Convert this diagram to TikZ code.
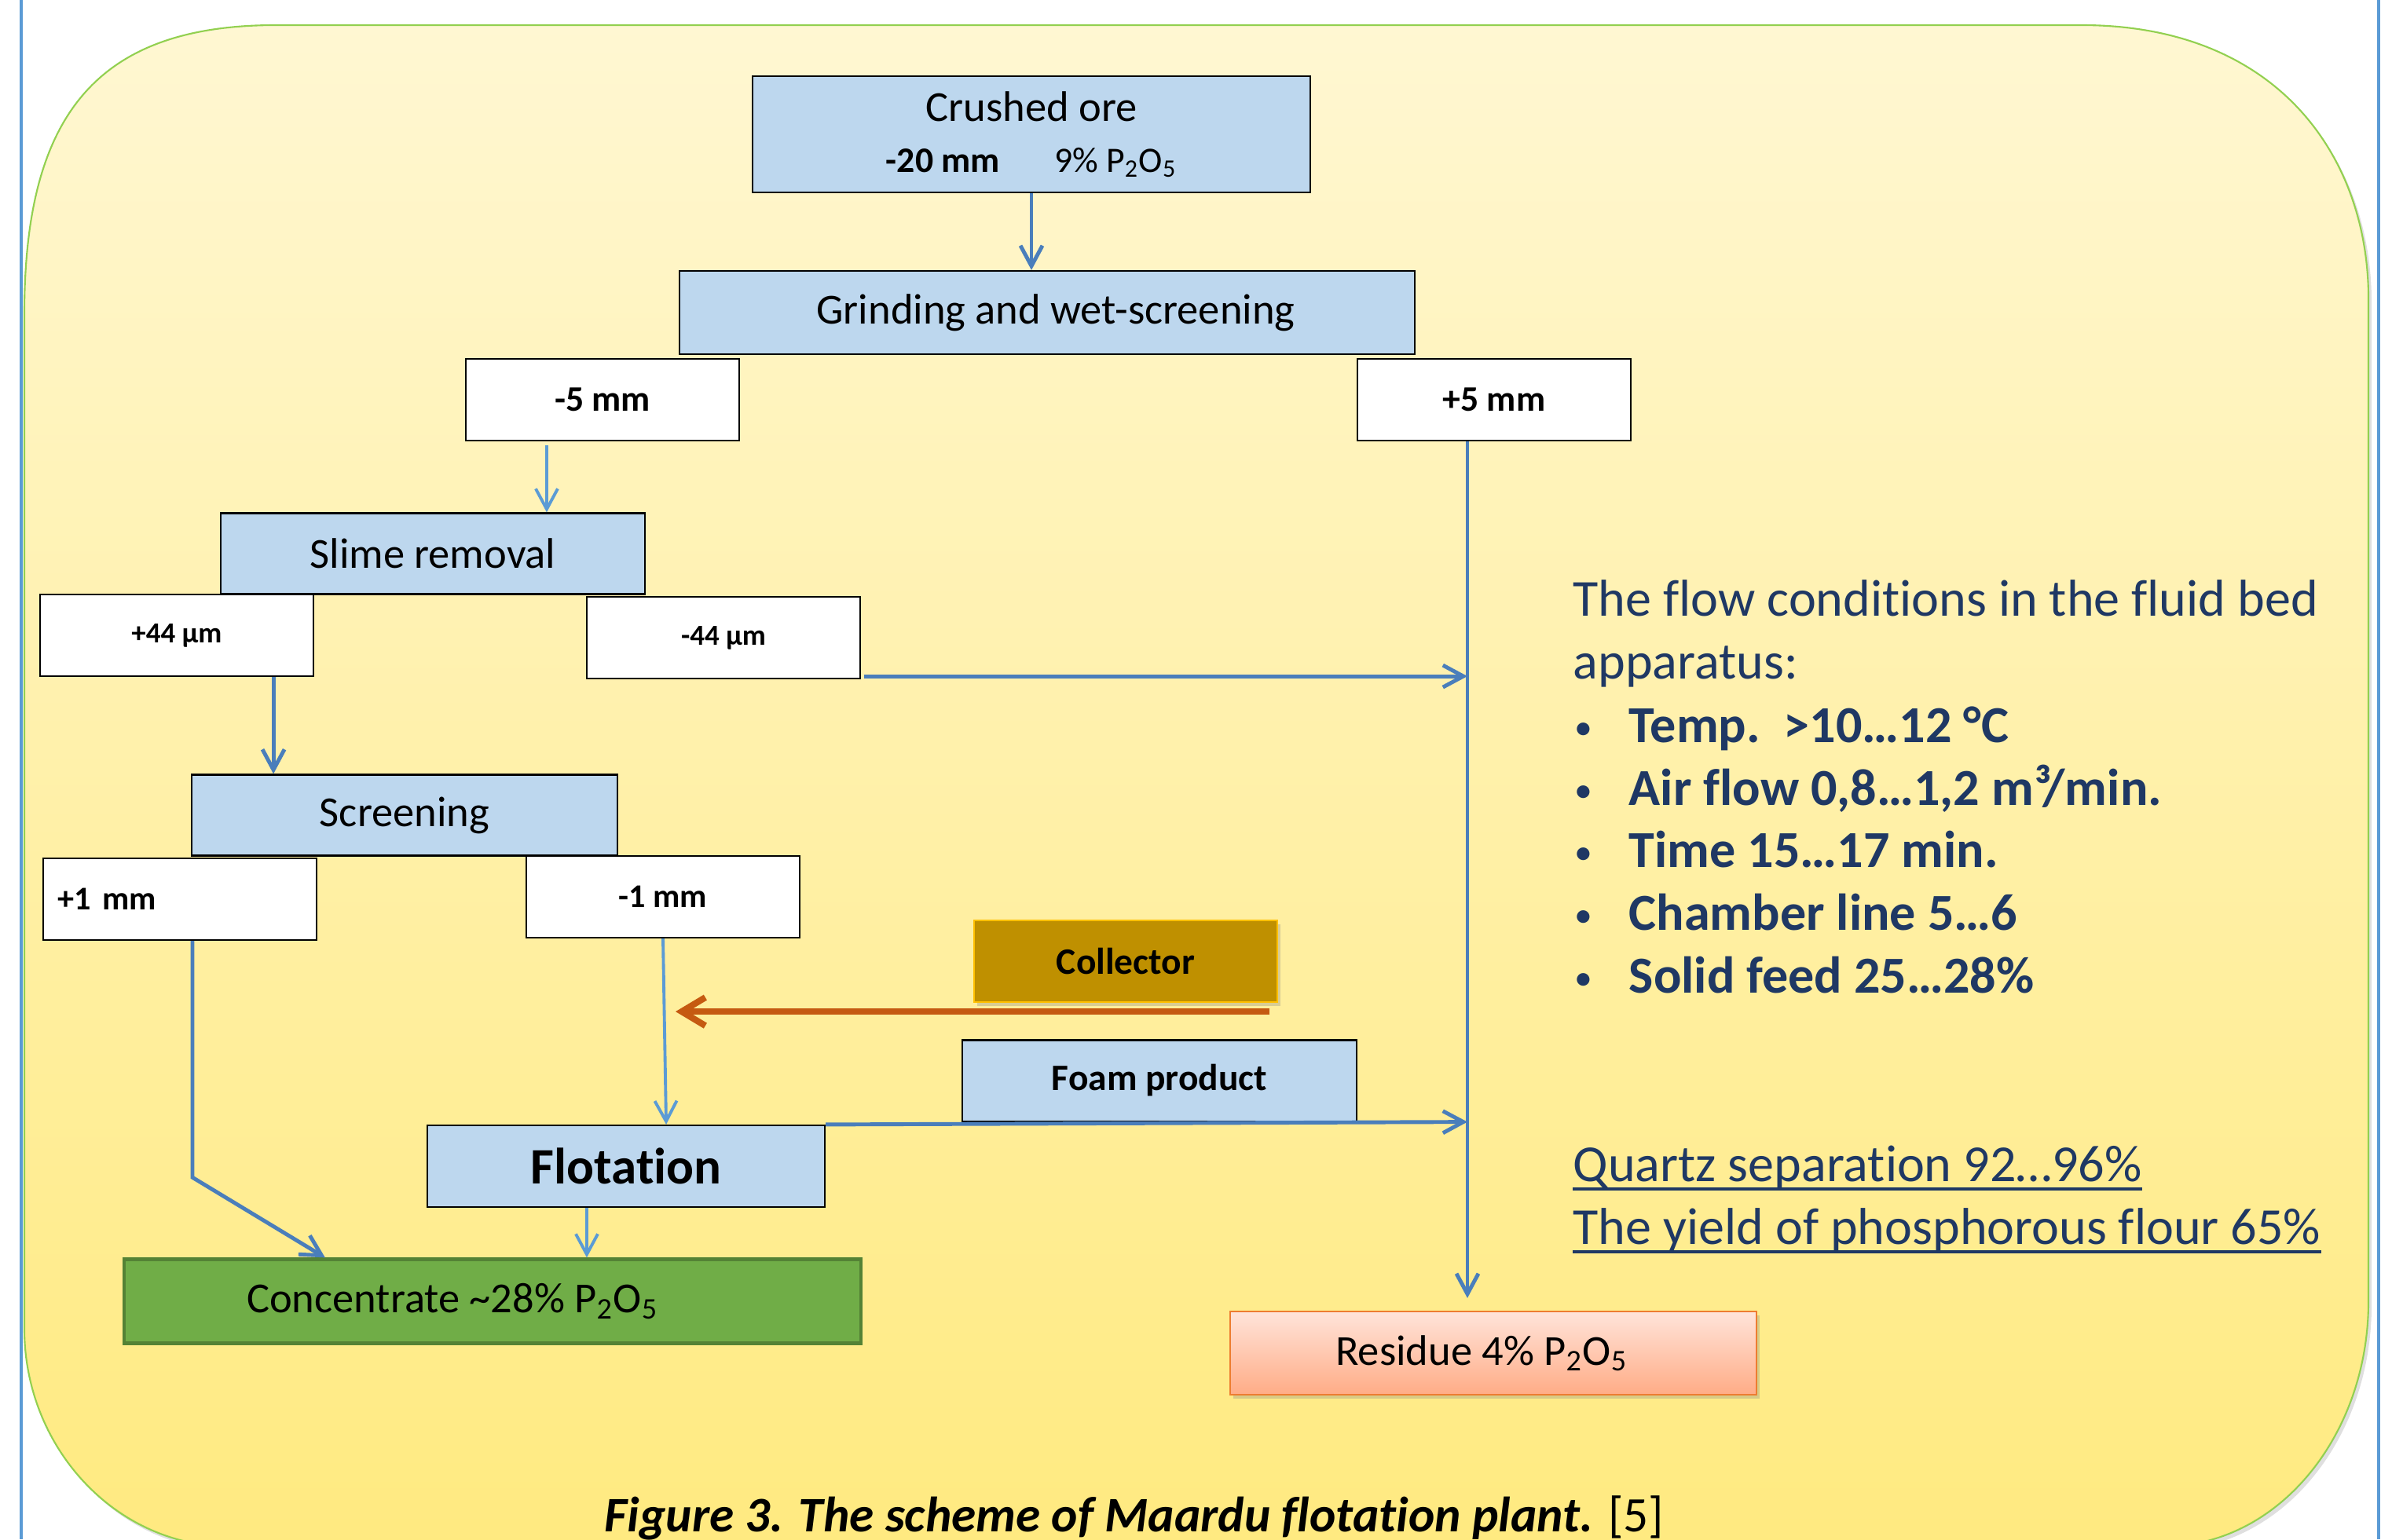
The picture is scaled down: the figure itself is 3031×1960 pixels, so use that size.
\documentclass[tikz,border=0pt]{standalone}
\usepackage{fontspec}
\setmainfont{Carlito}[Ligatures=NoCommon]
\usetikzlibrary{arrows.meta,calc,shadows}
\newcommand{\fsz}[2]{\fontsize{#1}{#2}\selectfont}
\newcommand{\bul}{\makebox[0.69cm][l]{\raisebox{0.04cm}{\fsz{13}{15}•}}}
\definecolor{procblue}{RGB}{189,215,238}
\definecolor{flowblue}{RGB}{74,126,187}
\definecolor{flowlight}{RGB}{91,155,213}
\definecolor{bgtop}{RGB}{255,247,210}
\definecolor{bgbot}{RGB}{255,234,128}
\definecolor{rimgreen}{RGB}{146,208,80}
\definecolor{collfill}{RGB}{191,144,0}
\definecolor{collrim}{RGB}{255,192,0}
\definecolor{concfill}{RGB}{112,173,71}
\definecolor{concrim}{RGB}{84,130,53}
\definecolor{restop}{RGB}{255,228,218}
\definecolor{resbot}{RGB}{255,172,134}
\definecolor{resrim}{RGB}{237,125,49}
\definecolor{dosecol}{RGB}{197,90,17}
\definecolor{navy}{RGB}{31,56,100}
\definecolor{slideline}{RGB}{91,155,213}
\tikzset{
  box/.style={draw,line width=0.6pt,inner sep=0pt,align=center,
              font=\fsz{15.5}{19}},
  proc/.style={box,fill=procblue},
  cut/.style={box,fill=white,minimum width=3.48cm,minimum height=1.04cm,
              font=\bfseries\fsz{12}{14}},
  cutlg/.style={cut,font=\bfseries\fsz{13}{15}},
  cutsm/.style={cut,font=\bfseries\fsz{10.5}{12}},
  coll/.style={box,fill=collfill,draw=collrim,
               font=\bfseries\fsz{13.5}{16},
               drop shadow={shadow xshift=0.04cm,shadow yshift=-0.05cm,opacity=0.3}},
  prod/.style={box,fill=concfill,draw=concrim,line width=1.2pt},
  waste/.style={box,top color=restop,bottom color=resbot,draw=resrim,
               drop shadow={shadow xshift=0.04cm,shadow yshift=-0.05cm,opacity=0.3}},
  note/.style={anchor=base west,inner sep=0pt,text=navy,font=\fsz{18.8}{22}},
  fl/.style={draw=flowblue,line width=1.4pt,
             -{Straight Barb[length=0.26cm,width=0.28cm]}},
  fln/.style={fl,draw=flowlight,line width=1.1pt},
  dose/.style={draw=dosecol,line width=2.3pt,
               -{Straight Barb[length=0.3cm,width=0.36cm]}},
  uline/.style={draw=navy,line width=0.95pt},
}
\begin{document}
\begin{tikzpicture}[x=0.01cm,y=-0.01cm]
\clip (0,0) rectangle (3031,1960);
\useasboundingbox (0,0) rectangle (3031,1960);
% slide frame and panel
\draw[slideline,line width=1.1pt] (27,0) -- (27,1960);
\draw[slideline,line width=1.1pt] (3028,0) -- (3028,1960);
\path[top color=bgtop,bottom color=bgbot,draw=rimgreen,line width=0.6pt,
      drop shadow={shadow xshift=0.04cm,shadow yshift=-0.05cm,opacity=0.25}]
  (31,400) .. controls (31,150) and (120,32) .. (351,32) -- (2650,32)
  .. controls (2900,32) and (3015,200) .. (3015,380) -- (3015,1657)
  .. controls (3015,1829) and (2899,1969) .. (2755,1969) -- (291,1969)
  .. controls (148,1969) and (31,1844) .. (31,1692) -- cycle;

% process boxes
\node[proc,minimum width=7.1cm,minimum height=1.48cm] (crushed) at (1313,171)
  {Crushed ore\\[-0.02cm]{\fsz{13}{15}\textbf{-20 mm}\hspace{0.69cm}9\% P\textsubscript{2}O\textsubscript{5}}};
\node[proc,minimum width=9.36cm,minimum height=1.06cm] (grind) at (1333,398)
  {\hspace*{0.22cm}Grinding and wet-screening};
\node[cutlg] (m5) at (767,509) {-5 mm};
\node[cutlg] (p5) at (1902,509) {+5 mm};
\node[proc,minimum width=5.4cm,minimum height=1.03cm] (slime) at (551,705)
  {Slime removal};
\node[cutsm] (p44) at (225,809) {+44 µm};
\node[cutsm] (m44) at (921,812) {-44 µm};
\node[proc,minimum width=5.41cm,minimum height=1.03cm] (screen) at (515,1038)
  {Screening};
\node[cut,text width=3.48cm,align=left] (p1) at (229,1145) {\hspace*{0.19cm}+1 mm};
\node[cut] (m1) at (844,1142) {-1 mm};
\node[coll,minimum width=3.86cm,minimum height=1.04cm] (coll) at (1433,1224)
  {Collector};
\node[proc,minimum width=5.01cm,minimum height=1.03cm,font=\bfseries\fsz{13.5}{16}]
  (foam) at (1476,1376) {Foam product};
\node[proc,minimum width=5.06cm,minimum height=1.04cm,font=\bfseries\fsz{18.5}{22}]
  (flot) at (797,1485) {Flotation};
\node[prod,minimum width=9.38cm,minimum height=1.07cm] (conc) at (627,1657)
  {Concentrate \textasciitilde28\% P\textsubscript{2}O\textsubscript{5}\hspace*{1.02cm}};
\node[waste,minimum width=6.69cm,minimum height=1.06cm] (resid) at (1901,1723)
  {Residue 4\% P\textsubscript{2}O\textsubscript{5}\hspace*{0.3cm}};

% flows
\coordinate (m5out) at ([xshift=-0.71cm]m5.south);
\coordinate (trunk) at ([xshift=-0.34cm]p5.south);
\coordinate (m44out) at ([xshift=0.04cm,yshift=0.04cm]m44.south east);
\coordinate (p44out) at ([xshift=1.23cm]p44.south);
\coordinate (p1out) at ([xshift=0.16cm]p1.south);
\coordinate (bend) at ([yshift=-3.01cm]p1out);
\coordinate (dosein) at ([xshift=-0.11cm,yshift=-0.11cm]coll.south east);
\coordinate (flotout) at ([xshift=-0.5cm]flot.south);
\draw[fl] (crushed.south) -- (crushed.south |- grind.north);
\draw[fln] ([yshift=-0.05cm]m5out) -- (m5out |- slime.north);
\draw[fl,shorten >=0.16cm] (trunk) -- (trunk |- resid.north);
\draw[fl] (m44out) -- (m44out -| trunk);
\draw[fl] (p44out) -- (p44out |- screen.north);
\draw[fl] (p1out) -- (bend) -- ([xshift=-2.13cm]conc.north);
\draw[fln] (m1.south) -- ([xshift=0.51cm]flot.north);
\draw[dose,shorten >=0.16cm] (dosein) -- (dosein -| m1.south);
\draw[fl] (flot.north east) -- (trunk |- foam.south);
\draw[fln] (flotout) -- (flotout |- conc.north);

% conditions
\node[note] (hd1) at (2002,784) {The flow conditions in the fluid bed};
\node[note] (hd2) at (2002,864) {apparatus:};
\node[note] (c1) at (2004,945) {\bul\textbf{Temp.\ \ >10…12~°C}};
\node[note] (c2) at (2004,1025) {\bul\textbf{Air flow 0,8…1,2 m³/min.}};
\node[note] (c3) at (2004,1104) {\bul\textbf{Time 15…17 min.}};
\node[note] (c4) at (2004,1184) {\bul\textbf{Chamber line 5…6}};
\node[note] (c5) at (2004,1264) {\bul\textbf{Solid feed 25…28\%}};
\node[note] (q1) at (2002,1504) {Quartz separation 92…96\%};
\node[note] (q2) at (2002,1584) {The yield of phosphorous flour 65\%};
\draw[uline] ([yshift=-0.1cm]q1.base west) -- ([yshift=-0.1cm]q1.base east);
\draw[uline] ([yshift=-0.1cm]q2.base west) -- ([yshift=-0.1cm]q2.base east);

\node[anchor=base,inner sep=0pt,font=\fsz{18}{22}] (cap) at (1444,1950)
  {\textbf{\textit{Figure 3. The scheme of Maardu flotation plant.}} [5]};
\end{tikzpicture}
\end{document}
